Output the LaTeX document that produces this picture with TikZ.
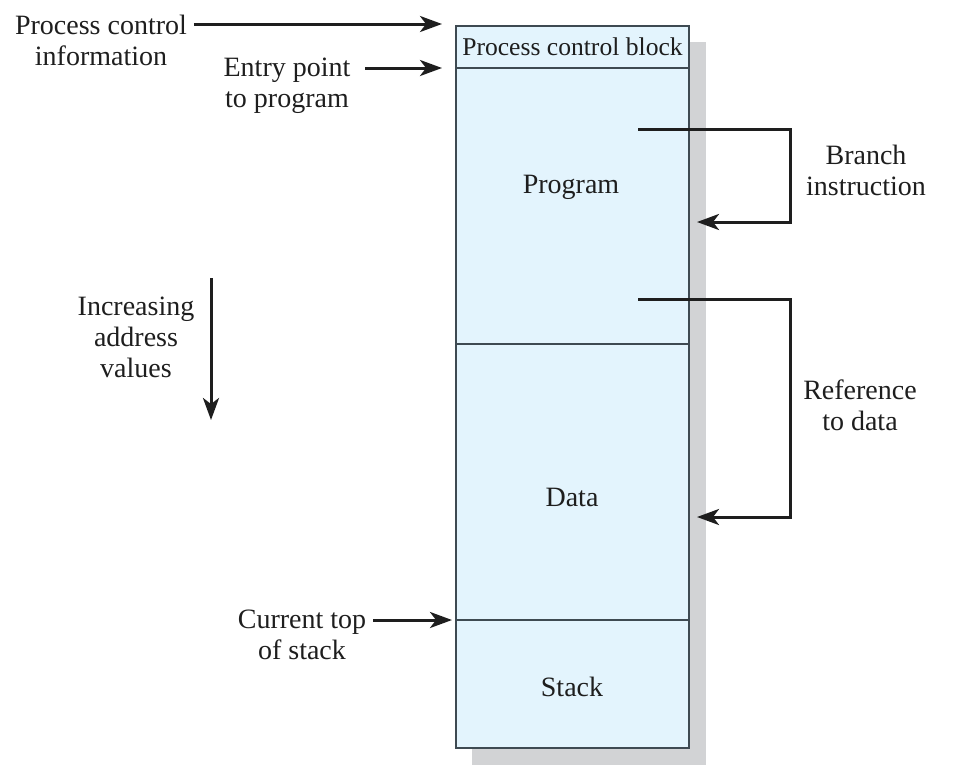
\documentclass[tikz,border=0pt]{standalone}
\usepackage{fontspec}
\setmainfont{Liberation Serif}
\usetikzlibrary{positioning, arrows.meta, backgrounds}
\definecolor{memblue}{HTML}{E3F4FD}
\definecolor{shadowgray}{HTML}{D2D3D5}
\definecolor{edgegray}{HTML}{3E4A52}
\definecolor{inkgray}{HTML}{1E1E1E}

\begin{document}
\begin{tikzpicture}[
    x=0.5pt, y=-0.5pt,
    node distance=0pt,
    lbl/.style={align=center, font=\fontsize{14}{15.5}\selectfont, text=inkgray},
    seg/.style={draw=edgegray, line width=0.8pt, fill=memblue, minimum width=116.5pt, inner sep=0pt, outer sep=0pt},
    arrow/.style={-{Stealth[length=11pt, width=8pt, inset=3pt]}, line width=1.5pt, draw=inkgray},
    shade/.style={fill=shadowgray}
]
\useasboundingbox (0,0) rectangle (957,771);

% Process image
\node[seg, anchor=north west, minimum height=21pt, font=\fontsize{12.8}{14}\selectfont, text=inkgray] (pcb) at (456,26) {Process control block};
\node[seg, below=of pcb, minimum height=138pt] (program) {};
\node[seg, below=of program, minimum height=138pt] (data) {};
\node[seg, below=of data, minimum height=64pt] (stack) {};

\node[lbl] (programtxt) at (571,187) {Program};
\node[lbl] (datatxt) at (572,497) {Data};
\node[lbl] (stacktxt) at (572,687) {Stack};

% Shadow
\begin{scope}[on background layer]
\fill[shade] ([shift={(8pt,-8pt)}]pcb.north west) rectangle ([shift={(8.5pt,-8.5pt)}]stack.south east);
\end{scope}

% Left labels
\node[lbl] (pci) at (101,40) {Process control\\information};
\node[lbl] (entry) at (287,85.5) {Entry point\\to program};
\node[lbl] (incr) at (136,337) {Increasing\\address\\values};
\node[lbl] (curtop) at (302,635) {Current top\\of stack};

\coordinate (pcitip) at ([xshift=-7pt,yshift=1pt]pcb.north west);
\coordinate (entrytip) at ([xshift=-7pt]pcb.south west);
\coordinate (curtoptip) at ([xshift=-2pt]stack.north west);
\coordinate (incrtop) at (211,278);
\coordinate (incrbot) at (211,420);

\draw[arrow] (pci.east |- pcitip) -- (pcitip);
\draw[arrow] ([xshift=4pt]entry.east |- entrytip) -- (entrytip);
\draw[arrow] (curtop.east |- curtoptip) -- (curtoptip);
\draw[arrow] (incrtop) -- (incrbot);

% Right loops
\node[lbl] (branch) at (866,170.5) {Branch\\instruction};
\node[lbl] (ref) at (860,405) {Reference\\to data};

\coordinate (brfrom) at ([shift={(-25.5pt,-30.5pt)}]program.north east);
\coordinate (brto) at ([shift={(4pt,-77pt)}]program.north east);
\coordinate (reffrom) at ([shift={(-25.5pt,-115.5pt)}]program.north east);
\coordinate (refto) at ([shift={(4pt,-86.5pt)}]data.north east);

\draw[arrow] (brfrom) -- ++(76pt,0) |- (brto);
\draw[arrow] (reffrom) -- ++(76pt,0) |- (refto);

\end{tikzpicture}
\end{document}
